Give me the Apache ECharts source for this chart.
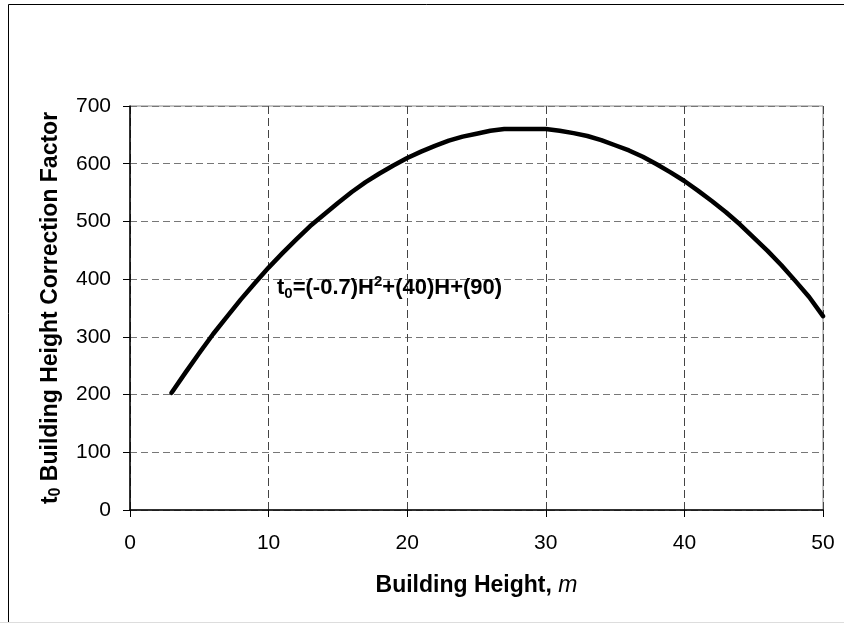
<!DOCTYPE html>
<html>
<head>
<meta charset="utf-8">
<script src="https://cdn.jsdelivr.net/npm/echarts@6/dist/echarts.min.js"></script>
<style>
  html, body { margin: 0; padding: 0; background: #fff; }
  #chart { width: 844px; height: 624px; }
</style>
</head>
<body>
<div id="chart"></div>
<script>
// data
const heights = [3, 4, 5, 6, 7, 8, 9, 10, 11, 12, 13, 14, 15, 16, 17, 18, 19, 20, 21, 22, 23, 24, 25, 26,
  27, 28, 29, 30, 31, 32, 33, 34, 35, 36, 37, 38, 39, 40, 41, 42, 43, 44, 45, 46, 47, 48, 49, 50]
const factors = [203, 238, 272, 305, 335, 365, 393, 420, 445, 469, 492, 512, 532, 551, 568, 583, 597, 610,
  621, 631, 640, 647, 652, 657, 660, 660, 660, 660, 657, 653, 648, 641, 632, 623, 612, 599, 585, 570,
  553, 535, 516, 495, 472, 449, 424, 397, 369, 336]
const xTicks = [0, 10, 20, 30, 40, 50]
const yTicks = [0, 100, 200, 300, 400, 500, 600, 700]

const font = '"Liberation Sans", Arial, sans-serif'

const chart = echarts.init(document.getElementById('chart'), null, { renderer: 'canvas' })

const option = {
  animation: false,
  backgroundColor: '#fff',
  grid: {
    left: 130,
    right: 21,
    top: 106,
    bottom: 114,
    show: true,
    borderColor: '#888',
    borderWidth: 1
  },
  xAxis: {
    type: 'value',
    min: xTicks[0],
    max: xTicks[xTicks.length - 1],
    interval: 10,
    name: '{b|Building Height, }{i|m}',
    nameLocation: 'middle',
    nameGap: 64,
    nameTextStyle: {
      rich: {
        b: { fontFamily: font, fontSize: 23, fontWeight: 'bold', color: '#000' },
        i: { fontFamily: font, fontSize: 23, fontStyle: 'italic', color: '#000' }
      }
    },
    axisLine: { onZero: false, lineStyle: { color: '#000', width: 1.5 } },
    axisTick: { show: true, length: 7, lineStyle: { color: '#000' } },
    axisLabel: { color: '#000', fontFamily: font, fontSize: 21, margin: 23 },
    splitLine: {
      show: true,
      lineStyle: { color: '#444', type: [8, 4], width: 1 }
    }
  },
  yAxis: {
    type: 'value',
    min: yTicks[0],
    max: yTicks[yTicks.length - 1],
    interval: 100,
    name: '{b|t}{s|0}{b| Building Height Correction Factor}',
    nameLocation: 'middle',
    nameGap: 66,
    nameTextStyle: {
      rich: {
        b: { fontFamily: font, fontSize: 23, fontWeight: 'bold', color: '#000', lineHeight: 27, verticalAlign: 'middle' },
        s: { fontFamily: font, fontSize: 16, fontWeight: 'bold', color: '#000', lineHeight: 16, verticalAlign: 'bottom' }
      }
    },
    axisLine: { show: true, onZero: false, lineStyle: { color: '#000', width: 1.5 } },
    axisTick: { show: true, length: 7, lineStyle: { color: '#000' } },
    axisLabel: { color: '#000', fontFamily: font, fontSize: 21, margin: 19 },
    splitLine: {
      show: true,
      lineStyle: { color: '#777', type: [7, 4], width: 1 }
    }
  },
  series: [
    {
      type: 'line',
      data: heights.map((h, i) => [h, factors[i]]),
      symbol: 'none',
      smooth: false,
      lineStyle: { color: '#000', width: 4.5, cap: 'round', join: 'round' }
    }
  ],
  graphic: [
    { type: 'line', shape: { x1: 8.5, y1: 4.5, x2: 8.5, y2: 622 }, style: { stroke: '#000', lineWidth: 1 } },
    { type: 'line', shape: { x1: 8.5, y1: 4.5, x2: 844, y2: 4.5 }, style: { stroke: '#000', lineWidth: 1 } },
    { type: 'line', shape: { x1: 0, y1: 622.5, x2: 844, y2: 622.5 }, style: { stroke: '#ddd', lineWidth: 1 } },
    {
      type: 'text',
      left: 277,
      top: 274,
      z: 10,
      style: {
        text: '{b|t}{s|0}{b|=(-0.7)H}{p|2}{b|+(40)H+(90)}',
        rich: {
          b: { fontFamily: font, fontSize: 22, fontWeight: 'bold', fill: '#000', lineHeight: 27, verticalAlign: 'middle' },
          s: { fontFamily: font, fontSize: 15, fontWeight: 'bold', fill: '#000', lineHeight: 15, verticalAlign: 'bottom' },
          p: { fontFamily: font, fontSize: 15, fontWeight: 'bold', fill: '#000', lineHeight: 15, verticalAlign: 'top' }
        }
      }
    }
  ]
}

chart.setOption(option)
</script>
</body>
</html>
